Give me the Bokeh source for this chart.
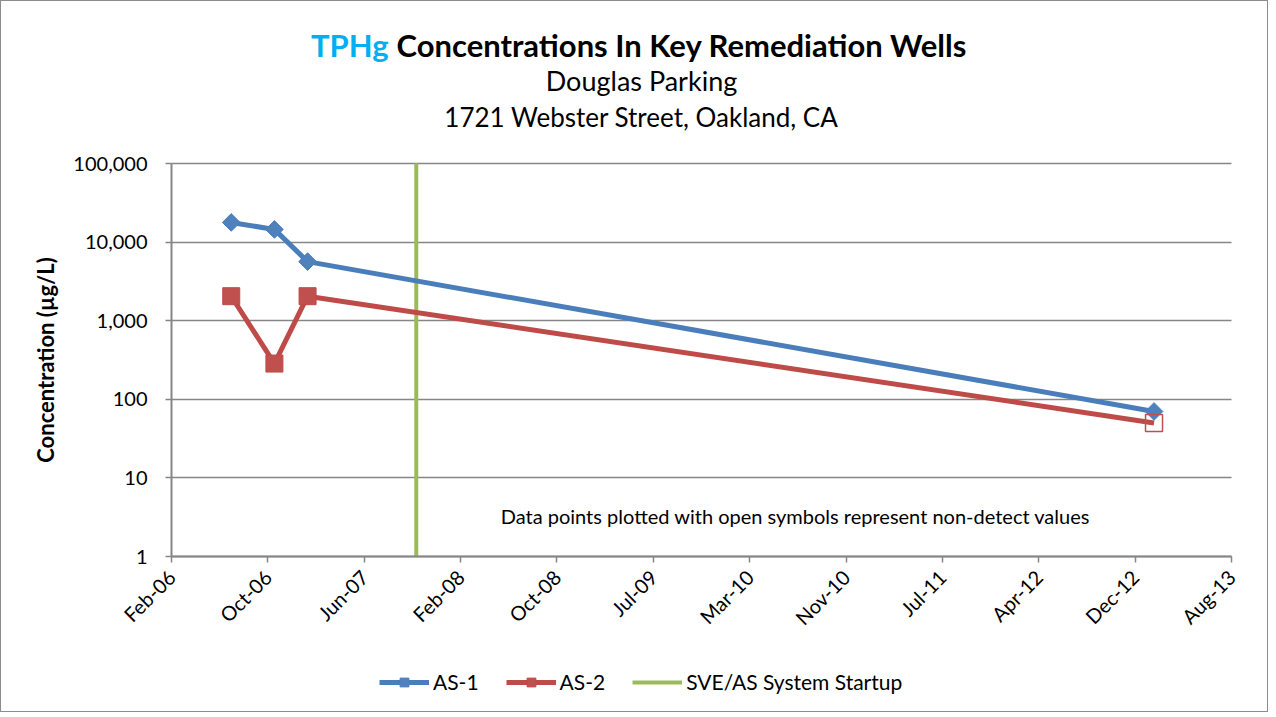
import datetime as dt
import math
from bokeh.plotting import figure
from bokeh.models import (Range1d, FixedTicker, Label, Legend, LegendItem,
                          ColumnDataSource, CDSView, BooleanFilter)
from bokeh.embed import file_html
from bokeh.resources import INLINE

# ---------------- data ----------------
sample_dates = ["2006-07-06", "2006-10-26", "2007-01-20", "2013-01-24"]
as1_values = [17800, 14500, 5650, 70]
as1_detected = [True, True, True, True]
as2_values = [2050, 285, 2050, 50]
as2_detected = [True, True, True, False]
startup_date = "2007-10-29"

x_tick_start = "2006-02-01"
x_tick_step_days = 250
x_tick_labels = ["Feb-06", "Oct-06", "Jun-07", "Feb-08", "Oct-08", "Jul-09",
                 "Mar-10", "Nov-10", "Jul-11", "Apr-12", "Dec-12", "Aug-13"]
y_ticks = [1, 10, 100, 1000, 10000, 100000]
y_tick_labels = ["1", "10", "100", "1,000", "10,000", "100,000"]

title_hi = "TPHg"
title_rest = "Concentrations In Key Remediation Wells"
subtitle1 = "Douglas Parking"
subtitle2 = "1721 Webster Street, Oakland, CA"
note_text = "Data points plotted with open symbols represent non-detect values"
y_label = "Concentration (\u00b5g/L)"

# ---------------- layout (pixels) ----------------
W, H = 1268, 712                 # canvas (plus 1px css border)
PA_L, PA_R = 170, 1230           # plot area, canvas x
PA_T, PA_B = 162, 555            # plot area, canvas y (from top)

# ---------------- helpers ----------------
EPOCH = dt.datetime(1970, 1, 1)


def to_ms(s):
    return (dt.datetime.strptime(s, "%Y-%m-%d") - EPOCH).total_seconds() * 1000.0


x0 = to_ms(x_tick_start)
STEP = x_tick_step_days * 86400000.0
x_ticks = [x0 + i * STEP for i in range(len(x_tick_labels))]
xs = [to_ms(d) for d in sample_dates]
x_start = to_ms(startup_date)

# extend ranges so that the plot area sits at PA_* while the frame fills the canvas
ms_per_px = (x_ticks[-1] - x_ticks[0]) / (PA_R - PA_L)
xr = Range1d(x_ticks[0] - PA_L * ms_per_px, x_ticks[-1] + (W - PA_R) * ms_per_px)
dec_per_px = (math.log10(y_ticks[-1]) - math.log10(y_ticks[0])) / (PA_B - PA_T)
yr = Range1d(10 ** (math.log10(y_ticks[0]) - (H - PA_B) * dec_per_px),
             10 ** (math.log10(y_ticks[-1]) + PA_T * dec_per_px))

FONT = "Lato"
GRAY = "#868686"
BLUE_L = "#4A7EBB"
BLUE_F = "#4F81BD"
RED_L = "#BE4B48"
RED_F = "#C0504D"
GREEN = "#9BBB59"

p = figure(width=W, height=H, x_axis_type="datetime", y_axis_type="log",
           x_range=xr, y_range=yr, output_backend="svg", toolbar_location=None,
           min_border=0)
p.styles = {"border": "1px solid #8c8c8c"}
p.outline_line_color = None

p.xaxis.fixed_location = y_ticks[0]
p.yaxis.fixed_location = x_ticks[0]
p.xaxis.bounds = (x_ticks[0], x_ticks[-1])
p.yaxis.bounds = (y_ticks[0], y_ticks[-1])
p.xaxis.ticker = FixedTicker(ticks=x_ticks)
p.xaxis.major_label_overrides = {tk: lb for tk, lb in zip(x_ticks, x_tick_labels)}
p.xaxis.major_label_orientation = math.pi / 4
p.yaxis.ticker = FixedTicker(ticks=y_ticks)
p.yaxis.major_label_overrides = {tk: lb for tk, lb in zip(y_ticks, y_tick_labels)}
for ax in (p.xaxis, p.yaxis):
    ax.axis_line_color = GRAY
    ax.axis_line_width = 2
    ax.major_tick_line_color = GRAY
    ax.major_tick_line_width = 1.5
    ax.major_tick_in = 0
    ax.major_tick_out = 6
    ax.minor_tick_line_color = None
    ax.major_label_text_font = FONT
    ax.major_label_text_font_size = "20px"
    ax.major_label_text_color = "black"
p.yaxis.major_label_standoff = 18
p.xaxis.major_label_standoff = 11
p.yaxis.axis_label = y_label
p.yaxis.axis_label_text_font = FONT
p.yaxis.axis_label_text_font_size = "22px"
p.yaxis.axis_label_text_font_style = "bold"
p.yaxis.axis_label_text_color = "black"
p.yaxis.axis_label_standoff = 11

p.xgrid.grid_line_color = None
p.ygrid.ticker = FixedTicker(ticks=y_ticks)
p.ygrid.cross_bounds = (x_ticks[0], x_ticks[-1])
p.ygrid.grid_line_color = GRAY
p.ygrid.grid_line_width = 1.5

r_green = p.line(x=[x_start, x_start], y=[y_ticks[0], y_ticks[-1]],
                 line_color=GREEN, line_width=4)

src1 = ColumnDataSource(dict(x=xs, y=as1_values))
src2 = ColumnDataSource(dict(x=xs, y=as2_values))
r_l1 = p.line("x", "y", source=src1, line_color=BLUE_L, line_width=5)
r_l2 = p.line("x", "y", source=src2, line_color=RED_L, line_width=5)

v1 = CDSView(filter=BooleanFilter(as1_detected))
r_m1 = p.scatter("x", "y", source=src1, view=v1, marker="square", angle=math.pi / 4,
                 size=12.5, fill_color=BLUE_F, line_color=BLUE_L, line_width=1)
v2 = CDSView(filter=BooleanFilter(as2_detected))
r_m2 = p.scatter("x", "y", source=src2, view=v2, marker="square",
                 size=17, fill_color=RED_F, line_color=RED_L, line_width=1)
v2n = CDSView(filter=BooleanFilter([not d for d in as2_detected]))
p.scatter("x", "y", source=src2, view=v2n, marker="square",
          size=17, fill_color=None, line_color=RED_F, line_width=1.5)

legend = Legend(items=[LegendItem(label="AS-1", renderers=[r_l1, r_m1]),
                       LegendItem(label="AS-2", renderers=[r_l2, r_m2]),
                       LegendItem(label="SVE/AS System Startup", renderers=[r_green])],
                orientation="horizontal", location=(378, 19),
                glyph_width=50, glyph_height=22, label_standoff=4, spacing=27,
                padding=0, margin=0, border_line_color=None,
                background_fill_alpha=0, label_text_font=FONT,
                label_text_font_size="21px", label_text_color="black")
p.add_layout(legend)


def lab(x, y, text, align, size, bold=False, color="black"):
    p.add_layout(Label(x=x, y=H - y, x_units="screen", y_units="screen", text=text,
                       text_align=align, text_baseline="middle", text_font=FONT,
                       text_font_size=size, text_font_style="bold" if bold else "normal",
                       text_color=color))


lab(387, 43, title_hi, "right", "31px", True, "#00B0F0")
lab(395, 43, title_rest, "left", "31px", True)
lab(640, 79, subtitle1, "center", "27px")
lab(640, 115, subtitle2, "center", "26px")
lab(794, 514, note_text, "center", "20px")

open("out.html", "w").write(file_html(p, INLINE))
